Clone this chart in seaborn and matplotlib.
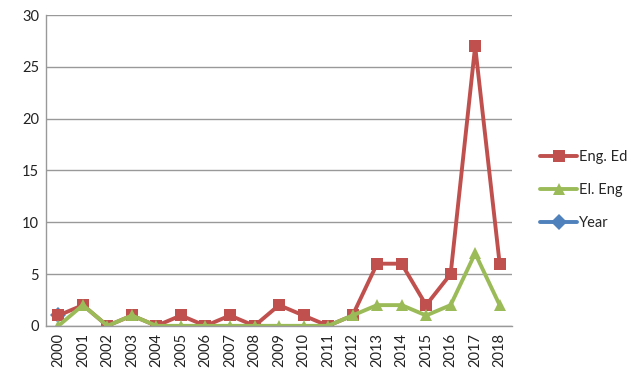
import numpy as np
import pandas as pd
import matplotlib
matplotlib.use("Agg")
import matplotlib.pyplot as plt
import seaborn as sns

# data
years = [str(y) for y in range(2000, 2019)]
eng_ed = [1, 2, 0, 1, 0, 1, 0, 1, 0, 2, 1, 0, 1, 6, 6, 2, 5, 27, 6]
el_eng = [0, 2, 0, 1, 0, 0, 0, 0, 0, 0, 0, 0, 1, 2, 2, 1, 2, 7, 2]
year_vals = [1] + [np.nan] * 18

sns.set_style("white")
plt.rcParams["font.family"] = ["Lato", "DejaVu Sans"]

fig = plt.figure(figsize=(6.32, 3.78), dpi=100)
ax = fig.add_axes([0.073, 0.138, 0.737, 0.822])

x = np.arange(len(years))
df = pd.DataFrame({"x": x, "Eng. Ed": eng_ed, "El. Eng": el_eng, "Year": year_vals})

# draw order: Year under the others
sns.lineplot(data=df, x="x", y="Year", ax=ax, color="#4F81BD", marker="D",
             markersize=8, markeredgewidth=0, linewidth=2.8, label="Year")
sns.lineplot(data=df, x="x", y="Eng. Ed", ax=ax, color="#C0504D", marker="s",
             markersize=8.5, markeredgewidth=0, linewidth=2.8, label="Eng. Ed")
sns.lineplot(data=df, x="x", y="El. Eng", ax=ax, color="#9BBB59", marker="^",
             markersize=9, markeredgewidth=0, linewidth=2.8, label="El. Eng")

ax.set_xlim(-0.5, len(years) - 0.5)
ax.set_ylim(0, 30)
ax.set_yticks(range(0, 31, 5))
ax.set_xticks(x)
ax.set_xticklabels(years, rotation=90)
ax.set_xlabel("")
ax.set_ylabel("")
ax.tick_params(axis="both", labelsize=10.5, length=0, pad=5, colors="#222222")
ax.grid(axis="y", color="#999999", linewidth=1)
ax.set_axisbelow(True)
for side in ["top", "right"]:
    ax.spines[side].set_visible(False)
for side in ["left", "bottom"]:
    ax.spines[side].set_color("#999999")
    ax.spines[side].set_linewidth(1)

handles, labels = ax.get_legend_handles_labels()
order = [labels.index(n) for n in ["Eng. Ed", "El. Eng", "Year"]]
ax.legend([handles[i] for i in order], [labels[i] for i in order],
          loc="center left", bbox_to_anchor=(0.833, 0.497),
          bbox_transform=fig.transFigure, frameon=False,
          fontsize=10.5, handlelength=2.6, handletextpad=0.1, labelspacing=1.3)

fig.savefig("out.png", dpi=100)
